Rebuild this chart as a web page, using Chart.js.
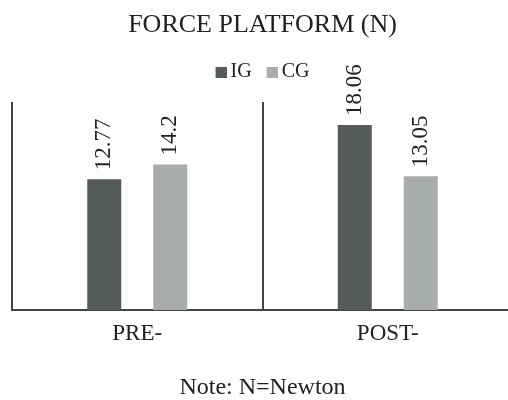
<!DOCTYPE html>
<html>
<head>
<meta charset="utf-8">
<script src="https://cdn.jsdelivr.net/npm/chart.js@4/dist/chart.umd.min.js"></script>
<style>
  html, body { margin: 0; padding: 0; background: #fff; overflow: hidden; }
  #wrap { width: 514px; height: 400px; }
</style>
</head>
<body>
<div id="wrap"><canvas id="force-chart"></canvas></div>
<script>
const categories = ['PRE-', 'POST-'];
const igValues = [12.77, 18.06];
const cgValues = [14.2, 13.05];
const seriesNames = ['IG', 'CG'];
const seriesColors = ['#555a5b', '#a9acac'];

const SERIF = '"Liberation Serif", "DejaVu Serif", serif';
const INK = '#222';
const LINE = '#444';

// small square swatch, sitting on the right of a wider canvas so the text hugs it
function makeSwatch(color) {
  const c = document.createElement('canvas');
  c.width = 17;
  c.height = 11;
  const g = c.getContext('2d');
  g.fillStyle = color;
  g.fillRect(6, 0, 11, 11);
  return c;
}
const swatches = seriesColors.map(makeSwatch);

// value labels standing upright above each bar
const barValueLabels = {
  id: 'barValueLabels',
  afterDatasetsDraw(chart) {
    const ctx = chart.ctx;
    ctx.save();
    ctx.font = '23px ' + SERIF;
    ctx.fillStyle = INK;
    ctx.textAlign = 'left';
    ctx.textBaseline = 'middle';
    chart.data.datasets.forEach((ds, i) => {
      chart.getDatasetMeta(i).data.forEach((bar, j) => {
        ctx.save();
        ctx.translate(bar.x, bar.y - 9);
        ctx.rotate(-Math.PI / 2);
        ctx.fillText(String(ds.data[j]), 0, 0);
        ctx.restore();
      });
    });
    ctx.restore();
  }
};

const defaultLegendLabels = Chart.defaults.plugins.legend.labels.generateLabels;

new Chart(document.getElementById('force-chart').getContext('2d'), {
  type: 'bar',
  data: {
    labels: categories,
    datasets: [{
      label: seriesNames[0],
      data: igValues,
      backgroundColor: seriesColors[0],
      xAxisID: 'x',
      categoryPercentage: 0.527,
      barPercentage: 0.515
    }, {
      label: seriesNames[1],
      data: cgValues,
      backgroundColor: seriesColors[1],
      xAxisID: 'x',
      categoryPercentage: 0.527,
      barPercentage: 0.515
    }]
  },
  options: {
    responsive: true,
    maintainAspectRatio: false,
    animation: false,
    layout: {
      padding: {top: 0, left: 12, right: 1, bottom: 0}
    },
    plugins: {
      title: {
        display: true,
        text: 'FORCE PLATFORM (N)',
        fullSize: false,
        color: INK,
        font: {family: SERIF, size: 26, weight: 'normal', lineHeight: 1.2},
        padding: {top: 10, bottom: 5.8}
      },
      subtitle: {
        display: true,
        position: 'bottom',
        text: 'Note: N=Newton',
        fullSize: false,
        color: INK,
        font: {family: SERIF, size: 24, weight: 'normal', lineHeight: 1},
        padding: {top: 27.9, bottom: 0.5}
      },
      legend: {
        display: true,
        position: 'top',
        fullSize: false,
        labels: {
          color: INK,
          font: {family: SERIF, size: 20},
          usePointStyle: true,
          pointStyleWidth: 5,
          boxHeight: 11,
          padding: 15,
          generateLabels(chart) {
            return defaultLegendLabels(chart).map((item, i) => ({
              ...item,
              pointStyle: swatches[i]
            }));
          }
        }
      },
      tooltip: {enabled: false}
    },
    scales: {
      x: {
        type: 'category',
        position: 'bottom',
        grid: {
          display: true,
          offset: true,
          drawTicks: false,
          color: LINE,
          lineWidth: 2
        },
        border: {display: true, color: LINE, width: 2},
        ticks: {
          color: INK,
          padding: 10,
          font: {family: SERIF, size: 23, lineHeight: 1.2}
        },
        afterFit(scale) {
          scale.height = 37.6;
        }
      },
      // empty strip between legend and plot
      xTop: {
        type: 'category',
        position: 'top',
        grid: {display: false, drawTicks: false},
        border: {display: false},
        ticks: {display: false},
        afterFit(scale) {
          scale.height = 10;
        }
      },
      y: {
        display: false,
        min: 0,
        max: 20.3
      }
    }
  },
  plugins: [barValueLabels]
});
</script>
</body>
</html>
